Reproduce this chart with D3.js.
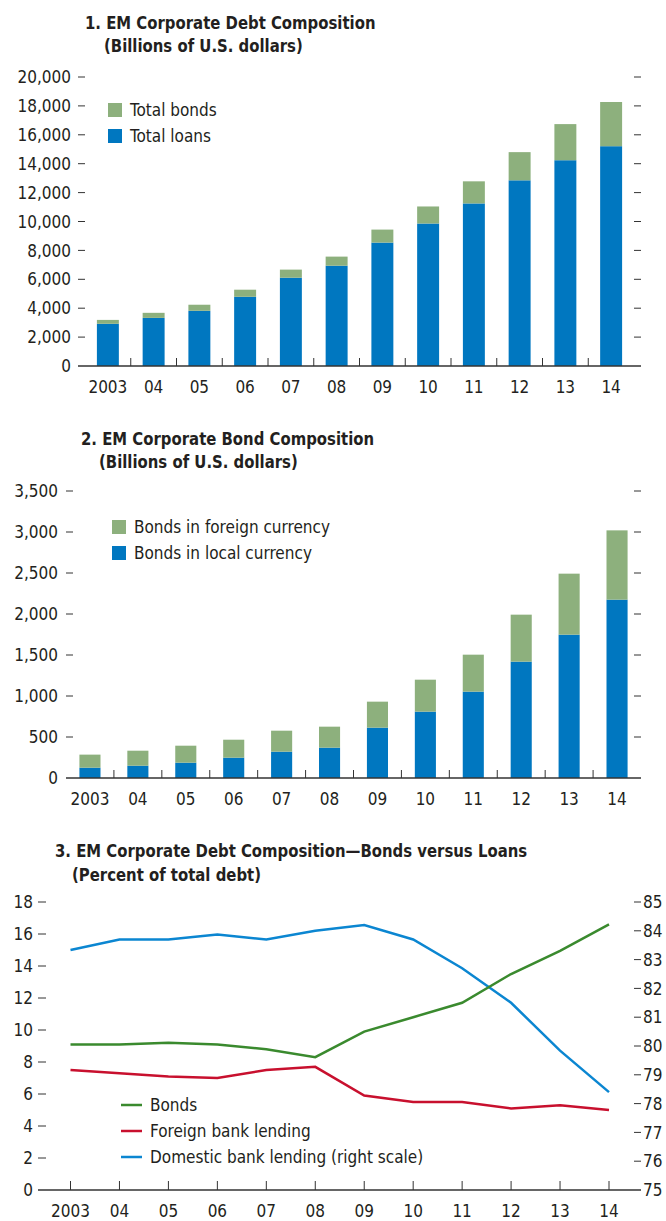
<!DOCTYPE html>
<html>
<head>
<meta charset="utf-8">
<script src="https://cdn.jsdelivr.net/npm/d3@7"></script>
<style>
  body { margin: 0; background: #fff; }
  svg text { font-family: "DejaVu Sans Condensed", "DejaVu Sans", sans-serif; font-stretch: condensed; fill: #231f20; }
  svg text.ttl { font-weight: bold; font-size: 18px; }
</style>
</head>
<body>
<svg width="666" height="1221"></svg>
<script>
// data
var years = ["2003", "04", "05", "06", "07", "08", "09", "10", "11", "12", "13", "14"];

// panel 1: billions of U.S. dollars
var totalLoans = [2920, 3330, 3820, 4790, 6110, 6940, 8540, 9860, 11250, 12850, 14240, 15210];
var totalBonds = [270, 350, 420, 490, 560, 630, 900, 1180, 1530, 1950, 2500, 3060];
var debtTicks = [0, 2000, 4000, 6000, 8000, 10000, 12000, 14000, 16000, 18000, 20000];

// panel 2: billions of U.S. dollars
var localBonds = [126, 150, 187, 248, 321, 370, 614, 809, 1053, 1419, 1748, 2175];
var foreignBonds = [159, 183, 207, 219, 256, 256, 317, 390, 451, 573, 744, 845];
var bondTicks = [0, 500, 1000, 1500, 2000, 2500, 3000, 3500];

// panel 3: percent of total debt
var bonds = [9.1, 9.1, 9.2, 9.1, 8.8, 8.3, 9.9, 10.8, 11.7, 13.5, 14.95, 16.6];
var foreignLending = [7.5, 7.3, 7.1, 7.0, 7.5, 7.7, 5.9, 5.5, 5.5, 5.1, 5.3, 5.0];
var domesticLending = [83.33, 83.7, 83.7, 83.87, 83.7, 84.0, 84.2, 83.7, 82.7, 81.5, 79.84, 78.4];
var leftTicks = [0, 2, 4, 6, 8, 10, 12, 14, 16, 18];
var rightTicks = [75, 76, 77, 78, 79, 80, 81, 82, 83, 84, 85];

var green = "#8db07d", blue = "#0077c0";
var lineGreen = "#3a8a2e", lineRed = "#c8102e", lineBlue = "#0b86d1";
var ink = "#333";

var svg = d3.select("svg");
var fmt = d3.format(",");

// titles are squeezed a bit to look like a condensed bold face
function title(x1, y1, t1, x2, y2, t2) {
  svg.append("text").attr("class", "ttl")
    .attr("transform", "translate(" + x1 + "," + y1 + ") scale(0.92,1)").text(t1);
  svg.append("text").attr("class", "ttl")
    .attr("transform", "translate(" + x2 + "," + y2 + ") scale(0.92,1)").text(t2);
}

// stacked bar panel
function barPanel(o) {
  var g = svg.append("g");
  var x = d3.scaleBand().domain(years).range(o.xr).paddingInner(o.pad).paddingOuter(o.pad / 2);
  var y = d3.scaleLinear().domain([0, o.max]).range([o.y0, o.y1]);

  var rows = years.map(function(yr, i) {
    return { year: yr, a: o.a[i], b: o.b[i] };
  });
  var stack = d3.stack().keys(["a", "b"])(rows);
  var cols = [blue, green];

  g.selectAll("g.layer").data(stack).enter().append("g")
    .attr("fill", function(d, i) { return cols[i]; })
    .selectAll("rect").data(function(d) { return d; }).enter().append("rect")
    .attr("x", function(d) { return x(d.data.year); })
    .attr("width", x.bandwidth())
    .attr("y", function(d) { return y(d[1]); })
    .attr("height", function(d) { return y(d[0]) - y(d[1]); });

  // ticks left and right (inward)
  o.ticks.forEach(function(t) {
    if (t === 0) return;
    g.append("line").attr("x1", o.axisL).attr("x2", o.axisL + 7)
      .attr("y1", y(t)).attr("y2", y(t)).attr("stroke", ink).attr("stroke-width", 1);
    g.append("line").attr("x1", o.axisR - 7).attr("x2", o.axisR)
      .attr("y1", y(t)).attr("y2", y(t)).attr("stroke", ink).attr("stroke-width", 1);
  });
  g.selectAll("text.yl").data(o.ticks).enter().append("text")
    .attr("x", o.labelX).attr("y", function(d) { return y(d); })
    .attr("dy", "0.36em").attr("text-anchor", "end")
    .style("font-size", "17px").text(function(d) { return fmt(d); });

  // x axis
  g.append("line").attr("x1", o.axisL).attr("x2", o.axisR)
    .attr("y1", o.y0).attr("y2", o.y0).attr("stroke", ink).attr("stroke-width", 1.5);
  var step = x.step();
  years.slice(1).forEach(function(yr) {
    var bx = x(yr) - (step - x.bandwidth()) / 2;
    g.append("line").attr("x1", bx).attr("x2", bx)
      .attr("y1", o.y0).attr("y2", o.y0 - 8).attr("stroke", ink).attr("stroke-width", 1);
  });
  g.selectAll("text.xl").data(years).enter().append("text")
    .attr("x", function(d) { return x(d) + x.bandwidth() / 2; })
    .attr("y", o.y0 + 27).attr("text-anchor", "middle")
    .style("font-size", "17px").text(function(d) { return d; });

  // legend
  o.legend.forEach(function(l, i) {
    g.append("rect").attr("x", o.legX).attr("y", o.legY + i * 26 - 7)
      .attr("width", 14).attr("height", 14).attr("fill", l.c);
    g.append("text").attr("x", o.legX + 22).attr("y", o.legY + i * 26)
      .attr("dy", "0.36em").style("font-size", "17px").text(l.t);
  });
}

title(85, 29, "1. EM Corporate Debt Composition", 104, 52, "(Billions of U.S. dollars)");
barPanel({
  a: totalLoans, b: totalBonds, max: 20000, ticks: debtTicks,
  xr: [85, 634], pad: 0.52, y0: 366, y1: 77,
  axisL: 78, axisR: 641, labelX: 71,
  legX: 108, legY: 110,
  legend: [{ t: "Total bonds", c: green }, { t: "Total loans", c: blue }]
});

title(81, 445, "2. EM Corporate Bond Composition", 99, 468, "(Billions of U.S. dollars)");
barPanel({
  a: localBonds, b: foreignBonds, max: 3500, ticks: bondTicks,
  xr: [66, 641], pad: 0.56, y0: 778, y1: 491,
  axisL: 66, axisR: 641, labelX: 58,
  legX: 112, legY: 527,
  legend: [{ t: "Bonds in foreign currency", c: green }, { t: "Bonds in local currency", c: blue }]
});

// panel 3: lines
title(55, 857, "3. EM Corporate Debt Composition\u2014Bonds versus Loans", 72, 881, "(Percent of total debt)");
(function() {
  var g = svg.append("g");
  var x = d3.scalePoint().domain(years).range([70.5, 609]);
  var yL = d3.scaleLinear().domain([0, 18]).range([1190, 902]);
  var yR = d3.scaleLinear().domain([75, 85]).range([1190, 902]);

  leftTicks.forEach(function(t) {
    if (t > 0) g.append("line").attr("x1", 38).attr("x2", 46).attr("y1", yL(t)).attr("y2", yL(t))
      .attr("stroke", ink).attr("stroke-width", 1);
  });
  rightTicks.forEach(function(t) {
    if (t > 75) g.append("line").attr("x1", 634).attr("x2", 641).attr("y1", yR(t)).attr("y2", yR(t))
      .attr("stroke", ink).attr("stroke-width", 1);
  });
  g.selectAll("text.l").data(leftTicks).enter().append("text")
    .attr("x", 33).attr("y", function(d) { return yL(d); }).attr("dy", "0.36em")
    .attr("text-anchor", "end").style("font-size", "17px").text(function(d) { return d; });
  g.selectAll("text.r").data(rightTicks).enter().append("text")
    .attr("x", 643).attr("y", function(d) { return yR(d); }).attr("dy", "0.36em")
    .style("font-size", "17px").text(function(d) { return d; });

  g.append("line").attr("x1", 38).attr("x2", 641).attr("y1", 1190).attr("y2", 1190)
    .attr("stroke", ink).attr("stroke-width", 1.5);
  years.forEach(function(yr) {
    g.append("line").attr("x1", x(yr)).attr("x2", x(yr)).attr("y1", 1190).attr("y2", 1181)
      .attr("stroke", ink).attr("stroke-width", 1);
  });
  g.selectAll("text.x").data(years).enter().append("text")
    .attr("x", function(d) { return x(d); }).attr("y", 1217).attr("text-anchor", "middle")
    .style("font-size", "17px").text(function(d) { return d; });

  var series = [
    { v: domesticLending, s: yR, c: lineBlue },
    { v: foreignLending, s: yL, c: lineRed },
    { v: bonds, s: yL, c: lineGreen }
  ];
  series.forEach(function(se) {
    var line = d3.line()
      .x(function(d, i) { return x(years[i]); })
      .y(function(d) { return se.s(d); });
    g.append("path").datum(se.v).attr("d", line)
      .attr("fill", "none").attr("stroke", se.c).attr("stroke-width", 2.5);
  });

  var leg = [
    { t: "Bonds", c: lineGreen },
    { t: "Foreign bank lending", c: lineRed },
    { t: "Domestic bank lending (right scale)", c: lineBlue }
  ];
  leg.forEach(function(l, i) {
    var ly = 1105 + i * 26;
    g.append("line").attr("x1", 121).attr("x2", 142).attr("y1", ly).attr("y2", ly)
      .attr("stroke", l.c).attr("stroke-width", 2.5);
    g.append("text").attr("x", 150).attr("y", ly).attr("dy", "0.36em")
      .style("font-size", "17px").text(l.t);
  });
})();
</script>
</body>
</html>
